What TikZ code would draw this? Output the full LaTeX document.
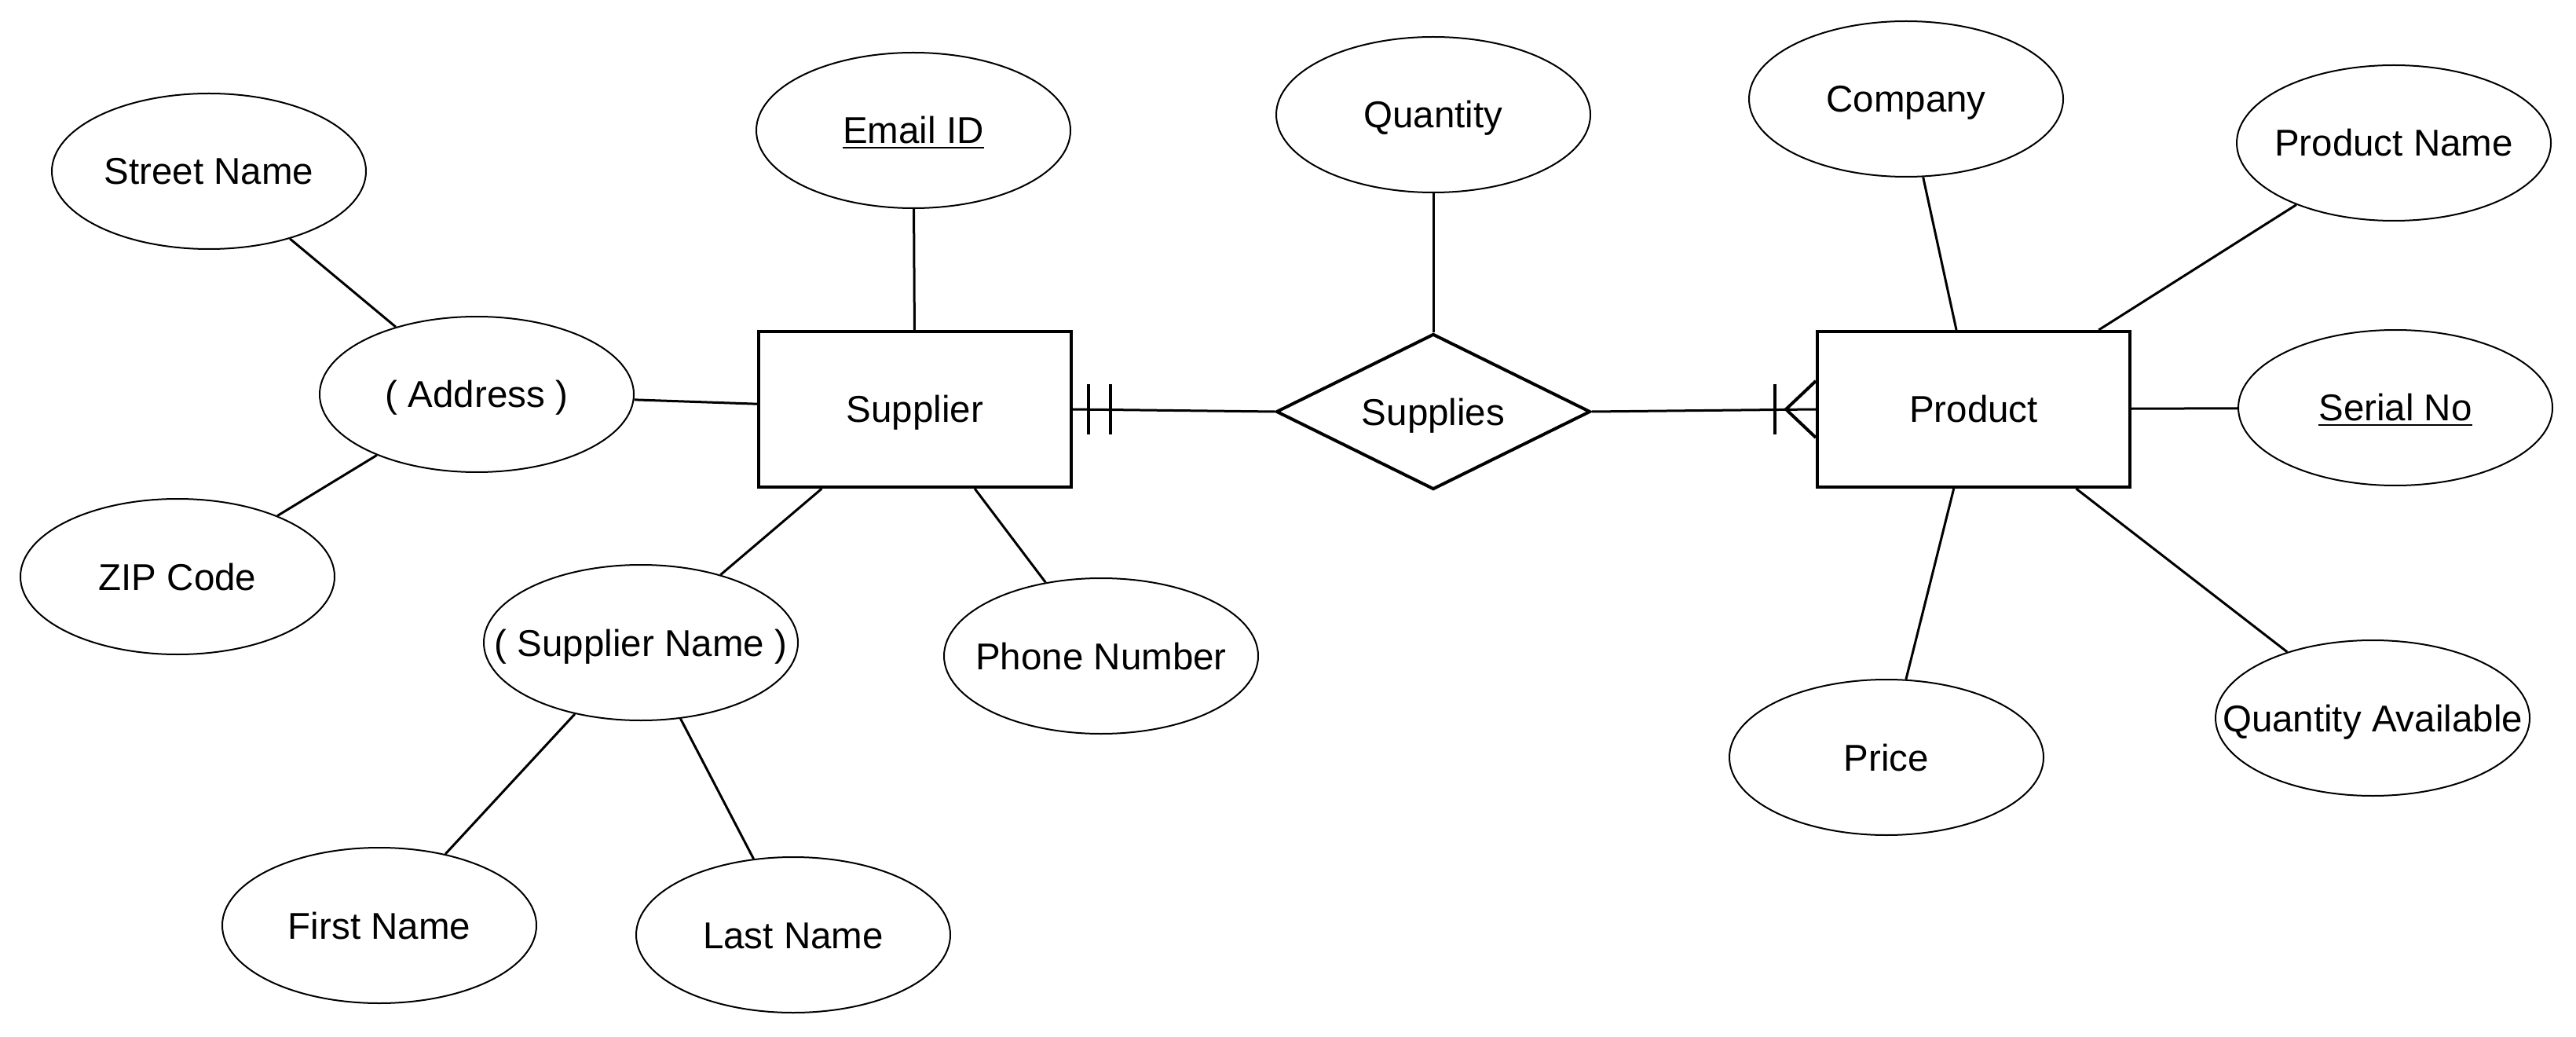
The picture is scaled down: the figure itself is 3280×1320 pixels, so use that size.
\documentclass[tikz,border=0pt]{standalone}
\usepackage{fontspec}
\setmainfont{Liberation Sans}
\usetikzlibrary{shapes.geometric,calc}
\newcommand{\keyattr}[1]{\setbox0\hbox{#1}\rlap{\rule[-3.2pt]{\wd0}{1.4pt}}\box0}
\newcommand{\lb}[1]{\makebox[0pt][c]{#1}}
\begin{document}
\begin{tikzpicture}[x=0.5pt,y=-0.5pt,
  lbl/.style={font=\fontsize{23.75}{28}\selectfont,text height=17pt,text depth=0pt,inner sep=0pt},
  attr/.style={lbl,ellipse,draw,line width=1pt,minimum width=200pt,minimum height=99pt},
  ent/.style={lbl,rectangle,draw,line width=2pt,minimum width=199pt,minimum height=99pt},
  rel/.style={lbl,diamond,draw,line width=2pt,aspect=2,minimum width=200pt,minimum height=99pt},
  conn/.style={line width=1.5pt}]
\fill[white] (0,0) rectangle (3280,1320);
\useasboundingbox (0,0) rectangle (3280,1320);

% entities and relationship
\node[ent] (sup) at (1165,521) {Supplier};
\node[ent] (prod) at (2513,521) {Product};
\node[rel] (supplies) at (1825,524) {Supplies};

% attributes
\node[attr] (street) at (266,218) {\lb{Street Name}};
\node[attr] (email) at (1163,166) {\lb{\keyattr{Email ID}}};
\node[attr] (qty) at (1825,146) {\lb{Quantity}};
\node[attr] (company) at (2427,126) {\lb{Company}};
\node[attr] (pname) at (3048,182) {\lb{Product Name}};
\node[attr] (addr) at (607,502) {\lb{( Address )}};
\node[attr] (serial) at (3050,519) {\lb{\keyattr{Serial No}}};
\node[attr] (zip) at (226,734) {\lb{ZIP Code}};
\node[attr] (sname) at (816,818) {\lb{( Supplier Name )}};
\node[attr] (phone) at (1402,835) {\lb{Phone Number}};
\node[attr] (price) at (2402,964) {\lb{Price}};
\node[attr] (qavail) at (3021,914) {\lb{Quantity Available}};
\node[attr] (first) at (483,1178) {\lb{First Name}};
\node[attr] (last) at (1010,1190) {\lb{Last Name}};

% attribute connectors
\draw[conn] (street) -- (addr);
\draw[conn] (zip) -- (addr);
\draw[conn] (addr) -- (sup);
\draw[conn] (email) -- (sup);
\draw[conn] (sup) -- (sname);
\draw[conn] (sup) -- (phone);
\draw[conn] (sname) -- (first);
\draw[conn] (sname) -- (last);
\draw[conn] (qty) -- (supplies);
\draw[conn] (prod) -- (company);
\draw[conn] (prod) -- (pname);
\draw[conn] (prod) -- (serial);
\draw[conn] (prod) -- (price);
\draw[conn] (prod) -- (qavail);

% relationship connectors
\draw[conn] (sup.east) -- (supplies.west);
\draw[conn] (supplies.east) -- (prod.west);

% mandatory one (Supplier side)
\draw[conn,line width=2pt] ($(sup.east)+(20,-32)$) -- ($(sup.east)+(20,32)$);
\draw[conn,line width=2pt] ($(sup.east)+(48,-32)$) -- ($(sup.east)+(48,32)$);
% one-to-many (Product side)
\draw[conn,line width=2pt] ($(prod.west)+(-52,-32)$) -- ($(prod.west)+(-52,32)$);
\draw[conn,line width=2pt] ($(prod.west)+(0,-36)$) -- ($(prod.west)+(-38,0)$) -- ($(prod.west)+(0,36)$);
\end{tikzpicture}
\end{document}
